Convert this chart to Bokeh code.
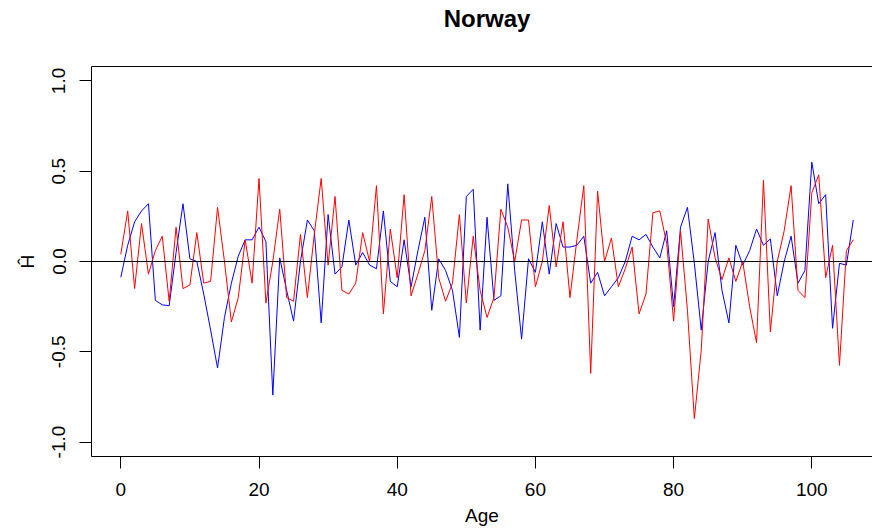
from bokeh.plotting import figure
from bokeh.models import FixedTicker, PrintfTickFormatter, LinearAxis, Span
from bokeh.embed import file_html
from bokeh.resources import INLINE

ages = list(range(0, 107))
blue_h = [-0.087, 0.09, 0.22, 0.28, 0.32, -0.215, -0.24, -0.245, 0.05, 0.32,
          0.015, 0.0, -0.18, -0.38, -0.59, -0.31, -0.12, 0.03, 0.12, 0.12,
          0.19, 0.11, -0.74, 0.02, -0.16, -0.33, 0.0, 0.23, 0.17, -0.34,
          0.26, -0.07, -0.03, 0.23, -0.02, 0.05, -0.02, -0.04, 0.28, -0.11,
          -0.14, 0.12, -0.14, 0.06, 0.245, -0.27, 0.015, -0.05, -0.16, -0.42,
          0.36, 0.40, -0.38, 0.245, -0.215, -0.19, 0.43, -0.05, -0.43, 0.015,
          -0.06, 0.22, -0.07, 0.21, 0.08, 0.08, 0.09, 0.14, -0.12, -0.06,
          -0.19, -0.14, -0.09, 0.0, 0.14, 0.12, 0.15, 0.08, 0.02, 0.17,
          -0.25, 0.19, 0.30, -0.01, -0.38, 0.0, 0.16, -0.16, -0.34, 0.09,
          -0.02, 0.06, 0.18, 0.09, 0.125, -0.19, 0.0, 0.14, -0.12, -0.05,
          0.55, 0.32, 0.37, -0.37, -0.01, -0.02, 0.23]
red_h = [0.04, 0.28, -0.15, 0.21, -0.07, 0.06, 0.14, -0.22, 0.19, -0.15,
         -0.13, 0.16, -0.12, -0.11, 0.30, 0.0, -0.335, -0.2, 0.12, -0.12,
         0.46, -0.23, 0.0, 0.29, -0.2, -0.22, 0.15, -0.2, 0.15, 0.46,
         -0.02, 0.36, -0.16, -0.18, -0.12, 0.16, 0.0, 0.42, -0.29, 0.18,
         -0.09, 0.37, -0.19, -0.07, 0.06, 0.36, -0.09, -0.22, -0.12, 0.26,
         -0.23, 0.14, -0.16, -0.31, -0.2, 0.29, 0.19, 0.0, 0.23, 0.23,
         -0.14, 0.0, 0.31, -0.03, 0.22, -0.2, 0.12, 0.42, -0.62, 0.39,
         0.0, 0.13, -0.14, -0.04, 0.08, -0.29, -0.18, 0.27, 0.28, 0.1,
         -0.33, 0.17, -0.27, -0.87, -0.49, 0.235, 0.02, -0.1, 0.02, -0.11,
         0.0, -0.25, -0.45, 0.45, -0.39, 0.0, 0.17, 0.42, -0.16, -0.2,
         0.38, 0.48, -0.09, 0.09, -0.575, 0.06, 0.12]
x_ticks = [0, 20, 40, 60, 80, 100]
y_ticks = [-1.0, -0.5, 0.0, 0.5, 1.0]
title_text = "Norway"
title_pos = 53  # x position (age units) of the centred title

FONT = "Liberation Sans"

p = figure(width=872, height=528, output_backend="svg", toolbar_location=None,
           x_range=(-4.24, 108.78), y_range=(-1.08, 1.08),
           min_border_left=91, min_border_right=0, min_border_top=66,
           min_border_bottom=72, x_axis_location=None, y_axis_location=None)
p.xgrid.visible = False
p.ygrid.visible = False
p.outline_line_color = None
p.background_fill_color = "white"
p.border_fill_color = "white"

xa = LinearAxis(ticker=FixedTicker(ticks=x_ticks), axis_label="Age")
ya = LinearAxis(ticker=FixedTicker(ticks=y_ticks), axis_label="Ĥ",
                formatter=PrintfTickFormatter(format="%.1f"))
for ax in (xa, ya):
    ax.axis_line_color = "black"
    ax.axis_line_width = 1
    ax.major_tick_line_color = "black"
    ax.major_tick_out = 12
    ax.major_tick_in = 0
    ax.minor_tick_line_color = None
    ax.major_label_text_font = FONT
    ax.major_label_text_font_size = "19px"
    ax.major_label_text_color = "black"
    ax.axis_label_text_font = FONT
    ax.axis_label_text_font_size = "19px"
    ax.axis_label_text_font_style = "normal"
    ax.axis_label_text_color = "black"
xa.major_label_standoff = 14
xa.axis_label_standoff = 6
ya.major_label_orientation = "vertical"
ya.major_label_standoff = 14
ya.axis_label_standoff = 12

# top border line, carrying the chart title as its single label
top = LinearAxis(ticker=FixedTicker(ticks=[title_pos]),
                 major_label_overrides={title_pos: title_text})
top.axis_line_color = "black"
top.major_tick_line_color = None
top.minor_tick_line_color = None
top.major_tick_out = 0
top.major_tick_in = 0
top.major_label_standoff = 35
top.major_label_text_font = FONT
top.major_label_text_font_size = "24px"
top.major_label_text_font_style = "bold"
top.major_label_text_color = "black"

p.add_layout(xa, "below")
p.add_layout(ya, "left")
p.add_layout(top, "above")

p.line(ages, blue_h, line_color="#0000FF", line_width=1)
p.line(ages, red_h, line_color="#FF0000", line_width=1)
p.add_layout(Span(location=0, dimension="width", line_color="black", line_width=1))

open("out.html", "w").write(file_html(p, INLINE))
